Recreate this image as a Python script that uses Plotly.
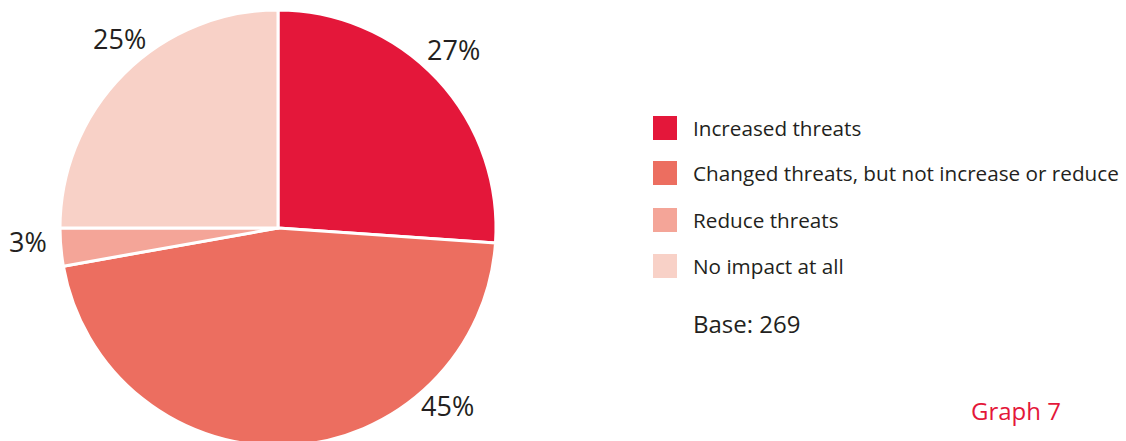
import plotly.graph_objects as go

categories = ["Increased threats", "Changed threats, but not increase or reduce",
              "Reduce threats", "No impact at all"]
values = [26.1, 46.1, 2.8, 25.0]
colors = ["#E4173A", "#EC6E60", "#F4A598", "#F8D1C7"]
pct_labels = ["27%", "45%", "3%", "25%"]
base_text = "Base: 269"
graph_label = "Graph 7"

W, H = 1126, 446
FONT = "Open Sans, Noto Sans, sans-serif"
TXT = "#231F20"

def px(x):
    return x / W

def py(y):
    return 1 - y / H

cx, r_top = 278, 10
R = (H - r_top) / 2

fig = go.Figure()
fig.add_trace(go.Pie(
    labels=categories, values=values, sort=False, direction="clockwise",
    rotation=0, marker=dict(colors=colors, line=dict(color="white", width=3)),
    textinfo="none", hoverinfo="label", showlegend=False,
    domain=dict(x=[px(cx - R), px(cx + R)], y=[0, py(r_top)]),
))

# percentage labels
label_pos = [(453, 50), (447, 405), (28, 241), (119, 38)]
annotations = []
for t, (x, y) in zip(pct_labels, label_pos):
    annotations.append(dict(text=t, x=px(x), y=py(y), xref="paper", yref="paper",
                            showarrow=False, xanchor="center", yanchor="middle",
                            font=dict(family=FONT, size=27, color=TXT)))

# legend
shapes = []
leg_y = [128, 173, 220, 266]
for c, name, y in zip(colors, categories, leg_y):
    shapes.append(dict(type="rect", xref="paper", yref="paper",
                       x0=px(653), x1=px(677), y0=py(y - 12), y1=py(y + 12),
                       fillcolor=c, line=dict(width=0)))
    annotations.append(dict(text=name, x=px(691), y=py(y), xref="paper", yref="paper",
                            showarrow=False, xanchor="left", yanchor="middle",
                            font=dict(family=FONT, size=20.7, color=TXT)))

annotations.append(dict(text=base_text, x=px(691), y=py(323), xref="paper", yref="paper",
                        showarrow=False, xanchor="left", yanchor="middle",
                        font=dict(family=FONT, size=24, color=TXT)))
annotations.append(dict(text=graph_label, x=px(1063), y=py(410), xref="paper", yref="paper",
                        showarrow=False, xanchor="right", yanchor="middle",
                        font=dict(family=FONT, size=24, color="#E4173A")))

fig.update_layout(width=W, height=H, margin=dict(l=0, r=0, t=0, b=0),
                  paper_bgcolor="white", plot_bgcolor="white",
                  shapes=shapes, annotations=annotations)

fig.write_html("out.html", config={"displayModeBar": False},
               post_script="document.body.style.margin='0';document.body.style.overflow='hidden';")
